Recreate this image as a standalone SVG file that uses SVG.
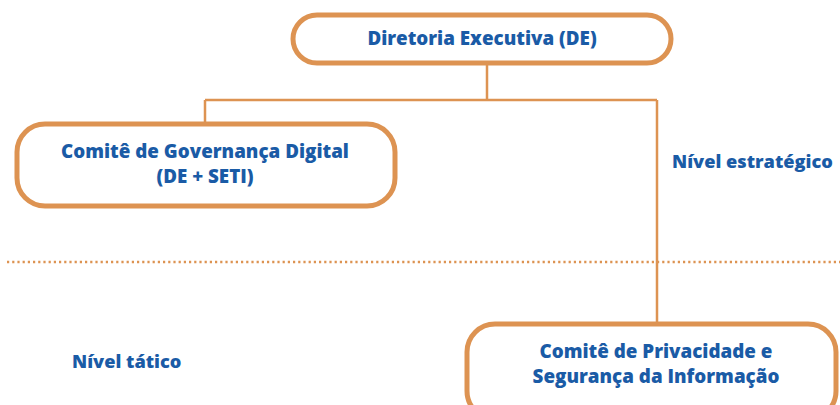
<svg xmlns="http://www.w3.org/2000/svg" width="840" height="405" viewBox="0 0 840 405">
<style>
.box{fill:#fff;stroke:#dd9352;stroke-width:5}
.ln{fill:none;stroke:#dd9352;stroke-width:2.5}
.dot{fill:none;stroke:#dd9352;stroke-width:2.4;stroke-dasharray:2.2 3}
.t{font-family:"Open Sans","Liberation Sans",sans-serif;font-weight:800;font-size:18.8px;fill:#1a5ba6;text-anchor:middle}
.l{font-family:"Open Sans","Liberation Sans",sans-serif;font-weight:800;font-size:18.2px;fill:#1a5ba6}
</style>
<rect width="840" height="405" fill="#fff"/>
<line class="dot" x1="7" y1="262" x2="840" y2="262"/>
<g id="connectors">
<path class="ln" d="M487 63V100M205 100H657M205 100V124M657 100V324"/>
</g>
<g id="de">
<rect class="box" x="293" y="15" width="378" height="48" rx="24"/>
<text class="t" x="482" y="45">Diretoria Executiva (DE)</text>
</g>
<g id="cgd">
<rect class="box" x="17" y="124" width="378" height="82" rx="28"/>
<text class="t" x="205" y="158">Comitê de Governança Digital</text>
<text class="t" x="205" y="183">(DE + SETI)</text>
</g>
<g id="cpsi">
<rect class="box" x="467" y="324" width="369" height="95" rx="28"/>
<text class="t" x="656" y="358">Comitê de Privacidade e</text>
<text class="t" x="656" y="383">Segurança da Informação</text>
</g>
<g id="labels">
<text class="l" x="672" y="168">Nível estratégico</text>
<text class="l" x="72" y="368">Nível tático</text>
</g>
</svg>
